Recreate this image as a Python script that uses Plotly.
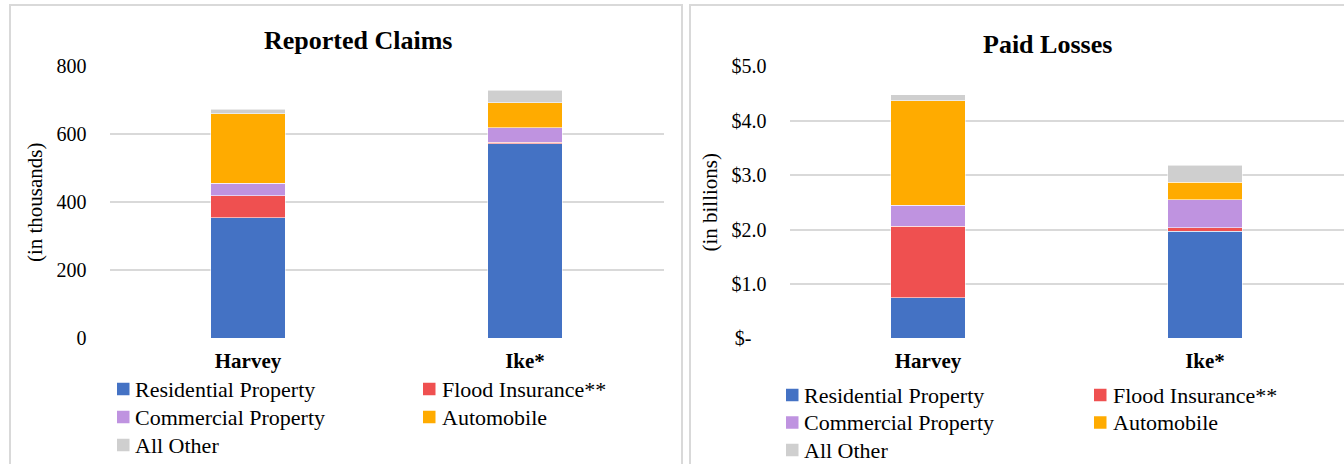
import plotly.graph_objects as go

W, H = 1344, 464
FONT = "Liberation Serif, Times New Roman, serif"

# Categories and series
storms = ["Harvey", "Ike*"]
series_names = ["Residential Property", "Flood Insurance**", "Commercial Property",
                "Automobile", "All Other"]
series_colors = ["#4472C4", "#EF5050", "#BF93E0", "#FFAB00", "#CFCFCF"]

# Reported claims, in thousands (Harvey, Ike*)
claims_residential = [355, 572]
claims_flood = [65, 4]
claims_commercial = [36, 44]
claims_auto = [205, 73]
claims_other = [12, 37]

# Paid losses, in billions of dollars (Harvey, Ike*)
losses_residential = [0.75, 1.965]
losses_flood = [1.31, 0.068]
losses_commercial = [0.39, 0.51]
losses_auto = [1.915, 0.33]
losses_other = [0.11, 0.305]

claims_ticks = [0, 200, 400, 600, 800]
claims_ticktext = ["0", "200", "400", "600", "800"]
losses_ticks = [0, 1, 2, 3, 4, 5]
losses_ticktext = ["$-\u00a0\u00a0\u00a0", "$1.0", "$2.0", "$3.0", "$4.0", "$5.0"]

claims = [claims_residential, claims_flood, claims_commercial, claims_auto, claims_other]
losses = [losses_residential, losses_flood, losses_commercial, losses_auto, losses_other]


def px(x):
    return x / W


def py(y):
    return 1 - y / H


fig = go.Figure()

for name, color, vals in zip(series_names, series_colors, claims):
    fig.add_trace(go.Bar(x=storms, y=vals, name=name, marker_color=color,
                         marker_line=dict(color="rgba(255,255,255,0.7)", width=0.8),
                         xaxis="x", yaxis="y", showlegend=False))
for name, color, vals in zip(series_names, series_colors, losses):
    fig.add_trace(go.Bar(x=storms, y=vals, name=name, marker_color=color,
                         marker_line=dict(color="rgba(255,255,255,0.7)", width=0.8),
                         xaxis="x2", yaxis="y2", showlegend=False))

ydom = [py(338.3), py(66.3)]
cat_axis = dict(
    type="category", showgrid=False, showline=False, zeroline=False, ticks="",
    tickfont=dict(family=FONT, size=21, color="#000", weight="bold"),
    ticklabelstandoff=8, fixedrange=True, automargin=False,
)
val_axis = dict(
    showgrid=True, gridcolor="#D9D9D9", gridwidth=1.6, zeroline=False,
    showline=False, ticks="", ticklabelstandoff=22, automargin=False,
    tickfont=dict(family=FONT, size=20, color="#000"), fixedrange=True,
)

fig.update_layout(
    width=W, height=H,
    margin=dict(l=0, r=0, t=0, b=0, autoexpand=False),
    paper_bgcolor="white", plot_bgcolor="white",
    barmode="stack", bargap=0.73,
    font=dict(family=FONT, color="#000"),
    xaxis=dict(cat_axis, domain=[px(109.5), px(663.5)], anchor="y"),
    yaxis=dict(val_axis, domain=ydom, anchor="x", range=[0, 800],
               tickvals=claims_ticks, ticktext=claims_ticktext,
               title=dict(text="(in thousands)", font=dict(family=FONT, size=21),
                          standoff=8)),
    xaxis2=dict(cat_axis, domain=[px(789.5), px(1343.5)], anchor="y2"),
    yaxis2=dict(val_axis, domain=ydom, anchor="x2", range=[0, 5],
                tickvals=losses_ticks, ticktext=losses_ticktext,
                title=dict(text="(in billions)", font=dict(family=FONT, size=21),
                           standoff=8)),
)

# Panel frames (open at the bottom edge of the page)
frame_line = dict(color="#D9D9D9", width=2)
for pts in [[(10, 464), (10, 5), (682, 5), (682, 464)],
            [(690, 464), (690, 5), (1344, 5)]]:
    path = "M " + " L ".join(f"{px(x):.5f},{py(y):.5f}" for x, y in pts)
    fig.add_shape(type="path", xref="paper", yref="paper", path=path,
                  line=frame_line, layer="below")

# Chart titles
for text, x, y in [("Reported Claims", 358, 40), ("Paid Losses", 1047, 45)]:
    fig.add_annotation(text=f"<b>{text}</b>", xref="paper", yref="paper",
                       x=px(x), y=py(y), xanchor="center", yanchor="middle",
                       showarrow=False, font=dict(family=FONT, size=26, color="#000"))

# Legends: two columns under each chart
legend_layouts = [
    dict(marker_x=[117, 423], text_x=[133, 440], rows=[389, 417, 445]),
    dict(marker_x=[786, 1094], text_x=[802, 1111], rows=[395, 422.5, 450]),
]
for lay in legend_layouts:
    for i, (name, color) in enumerate(zip(series_names, series_colors)):
        col, row = i % 2, i // 2
        mx, ty = lay["marker_x"][col], lay["rows"][row]
        fig.add_shape(type="rect", xref="paper", yref="paper",
                      x0=px(mx), x1=px(mx + 12.5), y0=py(ty + 6.25), y1=py(ty - 6.25),
                      fillcolor=color, line=dict(width=0))
        fig.add_annotation(text=name, xref="paper", yref="paper",
                           x=px(lay["text_x"][col]), y=py(ty), xanchor="left",
                           yanchor="middle", showarrow=False,
                           font=dict(family=FONT, size=22, color="#000"))

fig.write_html("out.html")
